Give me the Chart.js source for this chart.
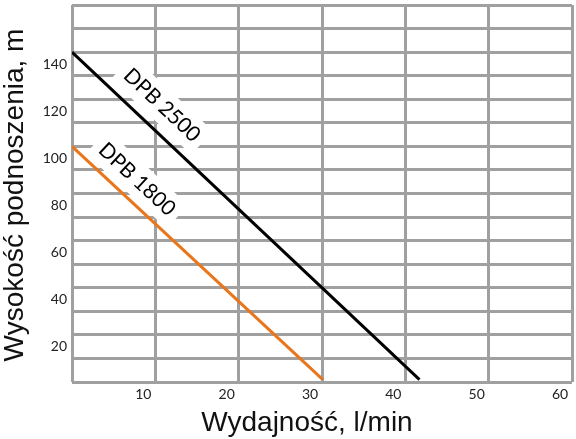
<!DOCTYPE html>
<html>
<head>
<meta charset="utf-8">
<script src="https://cdn.jsdelivr.net/npm/chart.js@4.4.0/dist/chart.umd.min.js"></script>
<style>
  html, body { margin: 0; padding: 0; background: #fff; }
  #wrap { width: 576px; height: 439px; }
</style>
</head>
<body>
<div id="wrap"><canvas id="pumpChart" width="576" height="439"></canvas></div>
<script>
// Dane (wydajność l/min, wysokość m)
const seriesNames = ["DPB 2500", "DPB 1800"]
const flowDpb2500 = [0, 41.7]
const headDpb2500 = [140, 1]
const flowDpb1800 = [0, 30.1]
const headDpb1800 = [100, 1]
const xTickLabels = [10, 20, 30, 40, 50, 60]
const yTickLabels = [20, 40, 60, 80, 100, 120, 140]
const xTitle = "Wydajność, l/min"
const yTitle = "Wysokość podnoszenia, m"

const gridColor = "#a0a0a0"

function toPoints(xs, ys) {
  return xs.map((x, i) => ({ x: x, y: ys[i] }))
}

// Etykiety serii wzdłuż linii (środek etykiety w jednostkach wykresu)
const seriesLabelPlugin = {
  id: "seriesLabels",
  afterDatasetsDraw(chart) {
    const { ctx, scales } = chart
    const xs = scales.x
    const ys = scales.y
    const anchors = [
      { x: 10.8, y: 117.5 },
      { x: 7.8, y: 86 },
    ]
    chart.data.datasets.forEach((ds, i) => {
      const p0 = ds.data[0]
      const p1 = ds.data[ds.data.length - 1]
      const angle = Math.atan2(
        ys.getPixelForValue(p1.y) - ys.getPixelForValue(p0.y),
        xs.getPixelForValue(p1.x) - xs.getPixelForValue(p0.x)
      )
      const cx = xs.getPixelForValue(anchors[i].x)
      const cy = ys.getPixelForValue(anchors[i].y)
      ctx.save()
      ctx.translate(cx, cy)
      ctx.rotate(angle)
      ctx.font = "21px Lato"
      const w = ctx.measureText(ds.label).width
      ctx.fillStyle = "#fff"
      ctx.fillRect(-w / 2 - 7, -16, w + 14, 32)
      ctx.fillStyle = "#000"
      ctx.textAlign = "center"
      ctx.textBaseline = "middle"
      ctx.fillText(ds.label, 0, 0)
      ctx.restore()
    })
  },
}

// Tytuły osi rysowane ręcznie, żeby trafić w położenie z oryginału
const axisTitlePlugin = {
  id: "axisTitles",
  afterDraw(chart) {
    const { ctx } = chart
    ctx.save()
    ctx.font = "28px 'Liberation Sans'"
    ctx.fillStyle = "#111"
    ctx.textAlign = "center"
    ctx.textBaseline = "alphabetic"
    ctx.fillText(xTitle, 307, 431)
    ctx.translate(23, 195)
    ctx.rotate(-Math.PI / 2)
    ctx.fillText(yTitle, 0, 0)
    ctx.restore()
  },
}

new Chart(document.getElementById("pumpChart"), {
  type: "line",
  data: {
    datasets: [
      {
        label: seriesNames[0],
        data: toPoints(flowDpb2500, headDpb2500),
        borderColor: "#000",
        borderWidth: 3,
        pointRadius: 0,
        fill: false,
      },
      {
        label: seriesNames[1],
        data: toPoints(flowDpb1800, headDpb1800),
        borderColor: "#e8761c",
        borderWidth: 3,
        pointRadius: 0,
        fill: false,
      },
    ],
  },
  options: {
    responsive: false,
    animation: false,
    layout: { padding: { top: 5, right: 4, left: 0, bottom: 0 } },
    plugins: {
      legend: { display: false },
      tooltip: { enabled: false },
    },
    scales: {
      x: {
        type: "linear",
        min: 0,
        max: 60,
        ticks: {
          stepSize: 10,
          padding: 4,
          labelOffset: -12,
          color: "#222",
          font: { family: "Lato", size: 14 },
          callback: (v) => (xTickLabels.includes(v) ? String(v) : ""),
          maxRotation: 0,
          autoSkip: false,
        },
        grid: { color: gridColor, lineWidth: 3, drawTicks: false },
        border: { display: false },
        afterFit(scale) {
          scale.height = 57
          scale.paddingLeft = 0
          scale.paddingRight = 0
        },
      },
      y: {
        type: "linear",
        min: 0,
        max: 160,
        ticks: {
          stepSize: 10,
          padding: 5,
          labelOffset: 12,
          color: "#222",
          font: { family: "Lato", size: 14 },
          callback: (v) => (yTickLabels.includes(v) ? String(v) : ""),
          autoSkip: false,
        },
        grid: { color: gridColor, lineWidth: 3, drawTicks: false },
        border: { display: false },
        afterFit(scale) {
          scale.width = 72
          scale.paddingTop = 0
          scale.paddingBottom = 0
        },
      },
    },
  },
  plugins: [seriesLabelPlugin, axisTitlePlugin],
})
</script>
</body>
</html>
